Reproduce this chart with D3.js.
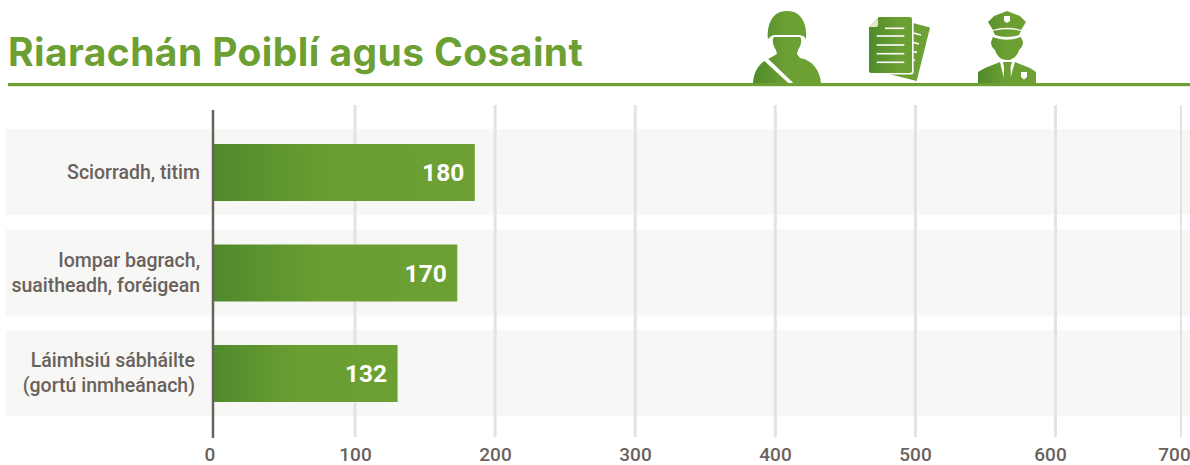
<!DOCTYPE html>
<html>
<head>
<meta charset="utf-8">
<script src="https://cdn.jsdelivr.net/npm/d3@7"></script>
<style>
  html, body { margin: 0; padding: 0; background: #fff; overflow: hidden; }
  svg { display: block; }
  .title { font-family: Inter, sans-serif; font-weight: 700; font-size: 39px; letter-spacing: 0.4px; fill: #6da033; }
  .cat { font-family: Roboto, sans-serif; font-weight: 500; font-size: 19.5px; fill: #6a615d; }
  .val { font-family: Roboto, sans-serif; font-weight: 700; font-size: 24.5px; fill: #fff; }
  .tick text { font-family: Roboto, sans-serif; font-weight: 500; font-size: 19px; fill: #6a615d; }
</style>
</head>
<body>
<div id="chart"></div>
<script>
const categories = ["Sciorradh, titim", "Iompar bagrach,\nsuaitheadh, foréigean", "Láimhsiú sábháilte\n(gortú inmheánach)"];
// printed numbers and the drawn bar lengths differ in the original
const printedValues = [180, 170, 132];
const barValues = [185.5, 173, 130.4];
const tickValues = [0, 100, 200, 300, 400, 500, 600, 700];
const titleText = "Riarachán Poiblí agus Cosaint";

const width = 1190, height = 465;
const svg = d3.select("#chart").append("svg").attr("width", width).attr("height", height);
const defs = svg.append("defs");

const barGrad = defs.append("linearGradient").attr("id", "barGrad");
barGrad.append("stop").attr("offset", "0%").attr("stop-color", "#4f8a2b");
barGrad.append("stop").attr("offset", "45%").attr("stop-color", "#6a9e32");
barGrad.append("stop").attr("offset", "100%").attr("stop-color", "#6da033");

// the ticks in the source are not evenly spaced, so piecewise scales
const x = d3.scaleLinear().domain([0, 100, 600, 700]).range([213, 355, 1055.5, 1181]);
const labelX = d3.scaleLinear().domain([0, 100, 500, 600, 700]).range([209.5, 355, 915, 1050, 1174]);
const y = d3.scaleBand().domain(categories).range([129, 416]).paddingInner(0.144);
const barH = 57;

svg.selectAll(".band").data(categories).enter().append("rect")
  .attr("class", "band")
  .attr("x", 6).attr("width", width - 6)
  .attr("y", d => y(d)).attr("height", y.bandwidth())
  .attr("fill", "#f7f7f5");

svg.selectAll(".grid").data(tickValues.slice(1)).enter().append("line")
  .attr("class", "grid")
  .attr("x1", d => x(d)).attr("x2", d => x(d))
  .attr("y1", 105).attr("y2", 437)
  .attr("stroke", "#e5e3e2").attr("stroke-width", d => d === 700 ? 2 : 3);

svg.selectAll(".bar").data(categories).enter().append("rect")
  .attr("class", "bar")
  .attr("x", x(0)).attr("y", d => y(d) + (y.bandwidth() - barH) / 2 + 0.5)
  .attr("width", (d, i) => x(barValues[i]) - x(0)).attr("height", barH)
  .attr("fill", "url(#barGrad)");

svg.append("line")
  .attr("x1", x(0)).attr("x2", x(0)).attr("y1", 110).attr("y2", 438)
  .attr("stroke", "#6b625e").attr("stroke-width", 2.5);

svg.selectAll(".val").data(categories).enter().append("text")
  .attr("class", "val")
  .attr("x", (d, i) => x(barValues[i]) - 10.5).attr("y", d => y(d) + y.bandwidth() / 2 + 9)
  .attr("text-anchor", "end")
  .text((d, i) => printedValues[i]);

const cat = svg.selectAll(".cat").data(categories).enter().append("text")
  .attr("class", "cat").attr("text-anchor", "end");
cat.each(function (d, i) {
  const lines = d.split("\n");
  const right = i === 2 ? 195 : 200;
  const top = y(d) + y.bandwidth() / 2 + 7 - (lines.length - 1) * 12.5;
  d3.select(this).selectAll("tspan").data(lines).enter().append("tspan")
    .attr("x", right).attr("y", (l, j) => top + j * 25).text(l => l);
});

const axis = d3.axisBottom(labelX).tickValues(tickValues).tickSize(0).tickPadding(0);
const axisG = svg.append("g").attr("transform", "translate(0,447)").call(axis);
axisG.select(".domain").remove();

// header
svg.append("text").attr("class", "title").attr("x", 8).attr("y", 65.5).text(titleText);

const iconGrad = (id, x1, x2) => {
  const g = defs.append("linearGradient").attr("id", id).attr("gradientUnits", "userSpaceOnUse")
    .attr("x1", x1).attr("x2", x2).attr("y1", 0).attr("y2", 0);
  g.append("stop").attr("offset", "0%").attr("stop-color", "#4f8a2b");
  g.append("stop").attr("offset", "50%").attr("stop-color", "#6da033");
};
iconGrad("soldierGrad", 753, 821);
iconGrad("docGrad", 869, 930);
iconGrad("policeGrad", 978, 1036);

const icons = svg.append("g");
const shape = (d, fill) => icons.append("path").attr("d", d).attr("fill", fill);

// soldier
shape("M768,39C767,30 769,11 787,11C805,11 807,30 806,39C804,36 802,35 799,35L775,35C772,35 770,37 768,39Z", "url(#soldierGrad)");
shape("M775,37L799,37C803,37 801,46 798,50L797,54L800,58C812,60 820,70 821,83L753,83C754,70 760,62 770,58L777,54L776,50C773,46 771,37 775,37Z", "url(#soldierGrad)");
shape("M763.3,60L767.7,58.3L793.3,83L788.3,83Z", "#fff");

// documents
shape("M913,23L930,27.5L916.7,81L889,74L913,74Z", "url(#docGrad)");
shape("M879,17L910,17Q912,17 912,19L912,71Q912,73 910,73L871,73Q869,73 869,71L869,27.5Z", "url(#docGrad)");
shape("M869.5,27L878,18.5L878,25Q878,27 876,27Z", "#dfe9cf");
[[885, 28.3], [876.7, 36], [876.7, 45], [876.7, 53.7], [876.7, 62.3]].forEach(p => {
  icons.append("line").attr("x1", p[0]).attr("x2", 904.3).attr("y1", p[1]).attr("y2", p[1])
    .attr("stroke", "#fff").attr("stroke-width", 1.6);
});
[[913.5, 33, 921, 35], [913.5, 42.5, 919, 44], [913.5, 51.5, 917, 52.5], [913.5, 60, 915, 60.5]].forEach(p => {
  icons.append("line").attr("x1", p[0]).attr("y1", p[1]).attr("x2", p[2]).attr("y2", p[3])
    .attr("stroke", "#fff").attr("stroke-width", 1.5);
});
icons.append("path").attr("d", "M913,22L913,72Q913,74 911,74L889,74").attr("fill", "none").attr("stroke", "#fff").attr("stroke-width", 1.2);

// police officer
shape("M1007,11L1020,16L1026,22L1021,30C1012,27 1002,27 993,30L988,22L994,16Z", "url(#policeGrad)");
shape("M993,31C1002,28.5 1012,28.5 1021,31L1019,35C1012,37.5 1002,37.5 995,35Z", "url(#policeGrad)");
shape("M993,37C1002,40.5 1012,40.5 1021,37L1023,42C1023,47 1020,49 1019,50C1017,57 1012,60 1007,60C1002,60 997,57 995,50C994,49 991,47 991,42Z", "url(#policeGrad)");
shape("M978,83L978,72L985,68L1000,62L1005,83Z", "url(#policeGrad)");
shape("M1036,83L1036,72L1030,68L1015,62L1009,83Z", "url(#policeGrad)");
shape("M1003,62L1012,62L1010.5,67L1011,83L1003.5,83L1004,67Z", "url(#policeGrad)");
shape("M1004,16L1010,16L1010,21L1007,23L1004,21Z", "#fff");
shape("M1021,72L1027,72L1027,77L1024,79.5L1021,77Z", "#fff");

// header rule
svg.append("rect").attr("x", 8).attr("y", 83).attr("width", width - 8).attr("height", 3.2).attr("fill", "#6da033");
</script>
</body>
</html>
